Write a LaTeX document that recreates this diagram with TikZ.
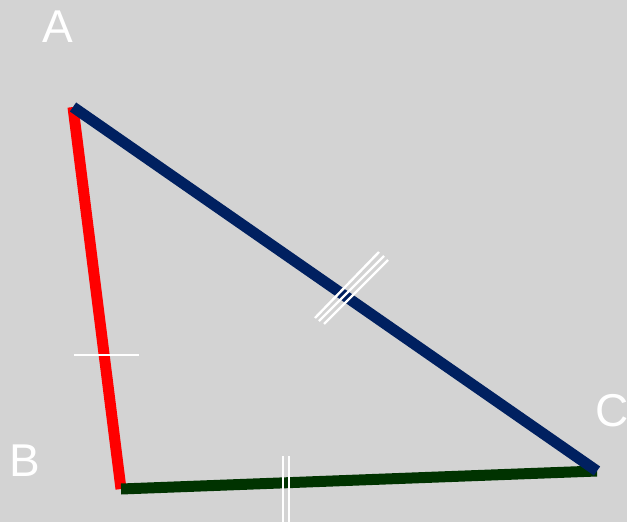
\documentclass[tikz,border=0pt]{standalone}
\usepackage{fontspec}
\setmainfont{Liberation Sans}
\usepackage{xcolor}
\usetikzlibrary{positioning}

\definecolor{bggray}{HTML}{D3D3D3}
\definecolor{sidered}{HTML}{FF0000}
\definecolor{sidenavy}{HTML}{002060}
\definecolor{sidegreen}{HTML}{003300}

\begin{document}
\begin{tikzpicture}[x=1pt,y=-1pt,side/.style={line width=11pt},tick/.style={draw=white,line width=2.4pt},vlabel/.style={text=white,font=\fontsize{46}{50}\selectfont,inner sep=0pt}]
    \useasboundingbox (0,0) rectangle (627,522);
    \fill[bggray] (0,0) rectangle (627,522);

    \coordinate (A) at (73,107);
    \coordinate (B) at (121,489);
    \coordinate (C) at (597,471);

    \node[vlabel] (la) at (58,27) {A};
    \node[vlabel] (lb) at (25,461) {B};
    \node[vlabel] (lc) at (612,411) {C};

    \draw[side,sidered] (A) -- (B);
    \draw[side,sidegreen] (B) -- (C);
    \draw[side,sidenavy] (A) -- (C);

    % equal-side marks
    \draw[tick] (379,252) -- (315,318)
                (384,256) -- (319,321)
                (388,260) -- (324,324);
    \draw[tick] (74,355) -- (139,355);
    \draw[tick] (283,456) -- (283,522)
                (289,456) -- (289,522);
\end{tikzpicture}
\end{document}
